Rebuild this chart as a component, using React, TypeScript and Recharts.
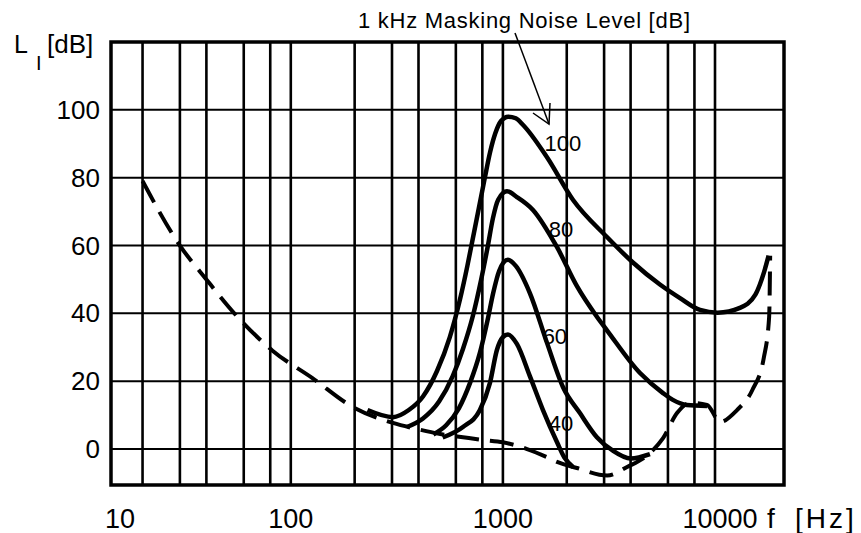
import {
  LineChart,
  Line,
  XAxis,
  YAxis,
  ReferenceLine,
  ReferenceArea,
  ReferenceDot,
} from "recharts";

// threshold in quiet (dashed)
const quietFreq = [20, 30, 40, 56, 82, 126, 196, 303, 400, 500, 648, 800, 1000, 1300, 1614, 1800, 2234, 3100, 3850, 4930, 5690, 6620, 7630, 9170, 10570, 12700, 15000, 17000, 18000, 18200];
const quietLevel = [79, 60, 50, 39, 29, 21, 12.4, 7.7, 5.8, 4.5, 3.5, 2.7, 2, 0, -2.4, -3.8, -5.6, -7.8, -5.3, -1.2, 3.2, 10.6, 13.6, 13, 8, 11.5, 17.4, 27, 39, 57];

// masked thresholds, 1 kHz masker at 100 / 80 / 60 / 40 dB
const freq100 = [230, 303, 360, 420, 489, 562, 627, 680, 721, 770, 822, 870, 920, 980, 1060, 1150, 1242, 1614, 2138, 3095, 4103, 5500, 6840, 8500, 10300, 13100, 15500, 17000, 17900];
const level100 = [11.5, 9.4, 11.5, 15.5, 23, 33, 44, 54, 62, 71, 80, 87.5, 93, 96.7, 98, 97.5, 95.6, 86, 73.5, 62.5, 55, 48.5, 44.5, 41, 40.2, 41.6, 45.5, 52, 57];

const freq80 = [353, 420, 500, 580, 648, 720, 790, 850, 897, 950, 1045, 1164, 1386, 1800, 2234, 2774, 3095, 4430, 5686, 6330, 7360, 9170];
const level80 = [6.5, 9, 14, 21.5, 29.5, 39, 50, 60, 68, 73.5, 76, 74.3, 70.5, 59.5, 48, 39, 35, 22.4, 16.5, 14.5, 13, 12.7];

const freq60 = [470, 540, 620, 700, 780, 850, 900, 960, 1056, 1150, 1340, 1614, 1919, 2307, 2774, 3300, 4000, 4934];
const level60 = [4.3, 7, 12, 19.5, 28.5, 38.5, 46, 52.5, 55.8, 54, 46, 31.3, 18.3, 10.6, 3.5, -0.5, -2.8, -1.5];

const freq40 = [520, 648, 779, 869, 937, 1000, 1056, 1164, 1340, 1545, 1800, 1950, 2140];
const level40 = [3.4, 6.5, 11.5, 19.5, 29.2, 33, 33.8, 31, 21.5, 11.5, 2, -2.5, -5.3];

const gridFreqs = [20, 30, 40, 60, 80, 100, 200, 300, 400, 600, 800, 1000, 2000, 3000, 4000, 6000, 8000, 10000];
const gridLevels = [0, 20, 40, 60, 80, 100];
const xTicks = [10, 100, 1000, 10000];

const curveLabels = ["100", "80", "60", "40"];
const labelFreq = [1919, 1881, 1758, 1881];
const labelLevel = [90.3, 64.9, 33.3, 7.7];

const X_MIN = 14.2;
const X_MAX = 21150;
const Y_MIN = -10.6;
const Y_MAX = 120;

const FONT = "'Liberation Sans', Arial, sans-serif";

const toRows = (f: number[], l: number[]) => f.map((x, i) => ({ f: x, L: l[i] }));

const XTick = (props: any) => {
  const { x, y, payload } = props;
  // the "10" label sits just inside the frame in the original
  const tx = payload.value === 10000 ? x + 5 : Math.max(x, 120);
  return (
    <text x={tx} y={y} textAnchor="middle" fontSize={27} fontFamily={FONT} fill="#000">
      {payload.value}
    </text>
  );
};

const YTick = (props: any) => {
  const { x, y, payload } = props;
  return (
    <text x={x} y={y} dy={9} textAnchor="end" fontSize={26} fontFamily={FONT} fill="#000">
      {payload.value}
    </text>
  );
};

const curves = [
  { f: freq100, l: level100 },
  { f: freq80, l: level80 },
  { f: freq60, l: level60 },
  { f: freq40, l: level40 },
];

export default function App() {
  return (
    <div style={{ position: "absolute", left: 0, top: 0, width: 861, height: 533, background: "#fff" }}>
      <LineChart width={861} height={533} margin={{ top: 42, right: 77, bottom: 0, left: 0 }}>
        <XAxis
          dataKey="f"
          type="number"
          scale="log"
          domain={[X_MIN, X_MAX]}
          allowDataOverflow
          ticks={xTicks}
          interval={0}
          axisLine={false}
          tickLine={false}
          tickSize={0}
          tickMargin={43}
          height={48}
          tick={<XTick />}
        />
        <YAxis
          type="number"
          domain={[Y_MIN, Y_MAX]}
          allowDataOverflow
          ticks={gridLevels}
          interval={0}
          axisLine={false}
          tickLine={false}
          tickSize={0}
          tickMargin={11}
          width={111}
          tick={<YTick />}
        />
        {gridLevels.map((v) => (
          <ReferenceLine key={"h" + v} y={v} stroke="#000" strokeWidth={2} />
        ))}
        {gridFreqs.map((v) => (
          <ReferenceLine key={"v" + v} x={v} stroke="#000" strokeWidth={2.6} />
        ))}
        <ReferenceArea x1={X_MIN} x2={X_MAX} y1={Y_MIN} y2={Y_MAX} fill="none" fillOpacity={0} stroke="#000" strokeWidth={3.5} />
        <Line
          data={toRows(quietFreq, quietLevel)}
          dataKey="L"
          type="monotone"
          stroke="#000"
          strokeWidth={4}
          strokeDasharray="24 11"
          dot={false}
          isAnimationActive={false}
        />
        {curves.map((c, i) => (
          <Line
            key={"c" + i}
            data={toRows(c.f, c.l)}
            dataKey="L"
            type="monotone"
            stroke="#000"
            strokeWidth={4.5}
            dot={false}
            isAnimationActive={false}
          />
        ))}
        {curveLabels.map((t, i) => (
          <ReferenceDot
            key={"l" + t}
            x={labelFreq[i]}
            y={labelLevel[i]}
            r={0}
            stroke="none"
            label={{ value: t, position: "center", fontSize: 22, fontFamily: FONT, fill: "#000" }}
          />
        ))}
      </LineChart>
      <svg
        width={861}
        height={533}
        style={{ position: "absolute", left: 0, top: 0, pointerEvents: "none" }}
        fontFamily={FONT}
      >
        <text x={358} y={28} fontSize={22} textLength={332} fill="#000">
          1 kHz Masking Noise Level [dB]
        </text>
        <line x1={515} y1={33} x2={549} y2={124} stroke="#000" strokeWidth={1.5} />
        <polyline points="533,113 549,124 550,103" fill="none" stroke="#000" strokeWidth={1.5} />
        <text x={14} y={53} fontSize={25} fill="#000">L</text>
        <text x={36} y={70} fontSize={20} fill="#000">I</text>
        <text x={47} y={53} fontSize={26} fill="#000">[dB]</text>
        <text x={767} y={528} fontSize={28} fill="#000">f</text>
        <text x={795} y={528} fontSize={28} letterSpacing={3} fill="#000">[Hz]</text>
      </svg>
    </div>
  );
}
